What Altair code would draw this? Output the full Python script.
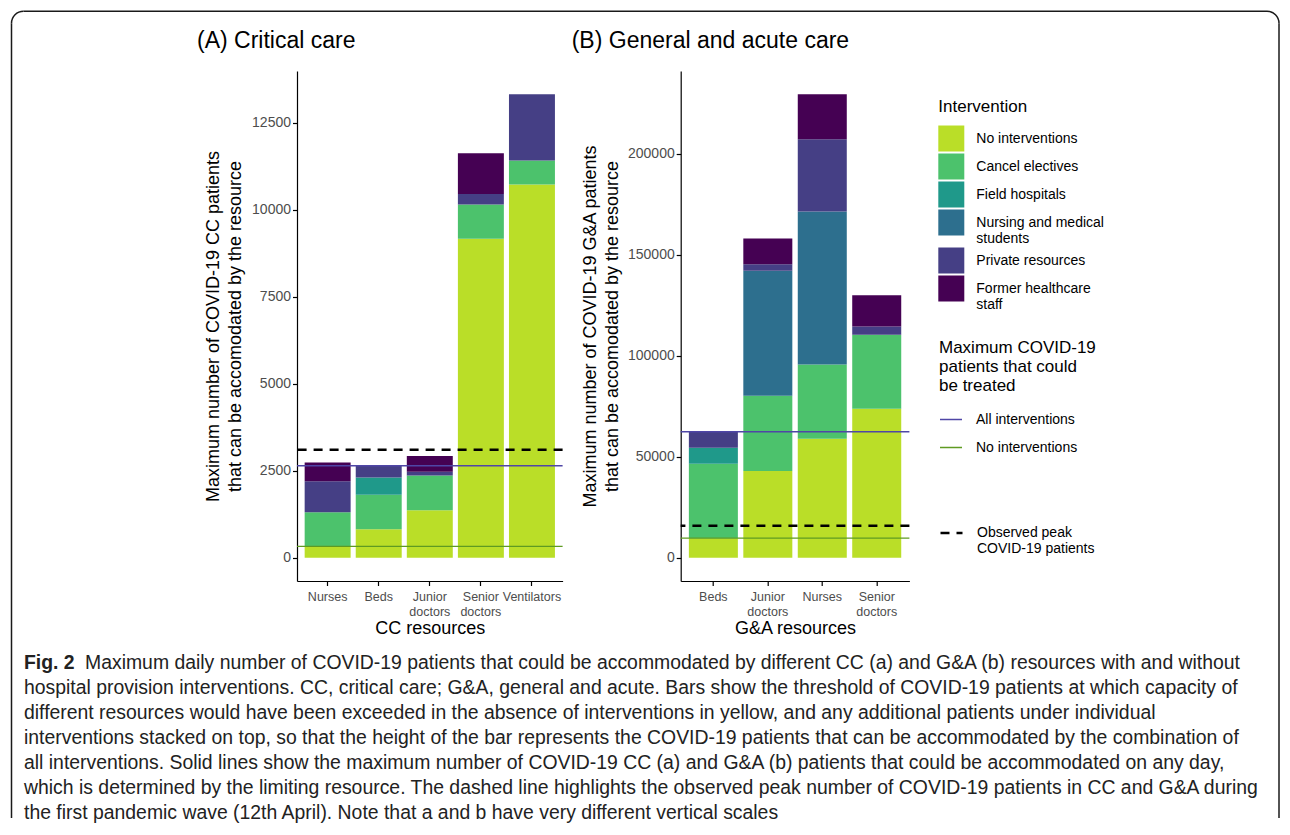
import altair as alt
import pandas as pd

# ---------------- data ----------------
interventions = ["No interventions", "Cancel electives", "Field hospitals",
                 "Nursing and medical students", "Private resources",
                 "Former healthcare staff"]
colors = ["#bade28", "#4cc26c", "#1f998a", "#2d6f8e", "#453f85", "#450153"]

cc_resources = ["Nurses", "Beds", "Junior doctors", "Senior doctors", "Ventilators"]
cc_none = [330, 817, 1365, 9166, 10722]
cc_cancel = [978, 991, 1000, 984, 688]
cc_field = [0, 500, 0, 0, 0]
cc_students = [0, 0, 0, 0, 0]
cc_private = [894, 336, 106, 296, 1905]
cc_former = [538, 0, 452, 1175, 0]

ga_resources = ["Beds", "Junior doctors", "Nurses", "Senior doctors"]
ga_none = [9700, 42900, 58900, 73760]
ga_cancel = [36830, 37290, 36730, 36650]
ga_field = [7920, 0, 0, 0]
ga_students = [0, 61800, 75740, 0]
ga_private = [7920, 3280, 35770, 4020]
ga_former = [0, 12770, 22260, 15510]

line_kinds = ["All interventions", "No interventions"]
line_colors = ["#4f46a6", "#5f9b22"]
cc_lines = [2644, 330]
ga_lines = [62370, 9700]
observed_kind = ["Observed peak COVID-19 patients"]
cc_observed = [3106]
ga_observed = [15840]

cc_ticks = [0, 2500, 5000, 7500, 10000, 12500]
ga_ticks = [0, 50000, 100000, 150000, 200000]
cc_domain = [-666, 13981]
ga_domain = [-11470, 240870]

caption_bold = "Fig. 2"
caption_lines = [
    "Maximum daily number of COVID-19 patients that could be accommodated by different CC (a) and G&A (b) resources with and without",
    "hospital provision interventions. CC, critical care; G&A, general and acute. Bars show the threshold of COVID-19 patients at which capacity of",
    "different resources would have been exceeded in the absence of interventions in yellow, and any additional patients under individual",
    "interventions stacked on top, so that the height of the bar represents the COVID-19 patients that can be accommodated by the combination of",
    "all interventions. Solid lines show the maximum number of COVID-19 CC (a) and G&A (b) patients that could be accommodated on any day,",
    "which is determined by the limiting resource. The dashed line highlights the observed peak number of COVID-19 patients in CC and G&A during",
    "the first pandemic wave (12th April). Note that a and b have very different vertical scales",
]

FONT = "Liberation Sans"
PANEL_H = 510


def bar_frame(resources, series):
    rows = []
    for r_i, res in enumerate(resources):
        for k, name in enumerate(interventions):
            v = series[k][r_i]
            if v > 0:
                rows.append({"resource": res, "intervention": name, "ord": k, "value": v})
    return pd.DataFrame(rows)


cc_df = bar_frame(cc_resources, [cc_none, cc_cancel, cc_field, cc_students, cc_private, cc_former])
ga_df = bar_frame(ga_resources, [ga_none, ga_cancel, ga_field, ga_students, ga_private, ga_former])

color_legend = alt.Legend(
    title="Intervention", orient="none", legendX=641.3, legendY=27.5,
    titleFontSize=17, titleFontWeight="normal", titlePadding=10, titleColor="black",
    symbolType="square", symbolSize=676, symbolStrokeWidth=0, symbolOpacity=1,
    labelFontSize=14, labelOffset=12, rowPadding=2, labelLimit=400, labelColor="black",
    labelExpr="datum.label == 'Nursing and medical students' ? ['Nursing and medical', 'students'] : "
              "datum.label == 'Former healthcare staff' ? ['Former healthcare', 'staff'] : datum.label",
)
stroke_legend = alt.Legend(
    title=["Maximum COVID-19", "patients that could", "be treated"], orient="none",
    legendX=642, legendY=268.5, titleFontSize=17, titleFontWeight="normal", titleLineHeight=19,
    titlePadding=13, titleColor="black",
    symbolType="stroke", symbolSize=484, symbolStrokeWidth=1.5,
    labelFontSize=14, labelOffset=13, rowPadding=9, labelLimit=400, labelColor="black",
)
dash_legend = alt.Legend(
    title=None, orient="none", legendX=642, legendY=449.5,
    symbolType="stroke", symbolSize=484, symbolStrokeWidth=2.5, symbolStrokeColor="black",
    labelFontSize=14, labelOffset=13, labelLimit=400, labelColor="black",
    labelExpr="datum.label == 'Observed peak COVID-19 patients' ? ['Observed peak', 'COVID-19 patients'] : datum.label",
)


def panel(df, resources, domain, ticks, ytitle, xtitle, lines, observed, width, title, title_dx, tpad):
    yscale = alt.Scale(domain=domain, nice=False, zero=False)
    yaxis = alt.Axis(values=ticks, format="d", title=ytitle, titlePadding=tpad,
                     titleLineHeight=22)
    bars = alt.Chart(df).mark_bar().encode(
        x=alt.X("resource:N", sort=resources,
                scale=alt.Scale(paddingInner=0.1, paddingOuter=0.15),
                axis=alt.Axis(title=xtitle, labelAngle=0, labelExpr="split(datum.label, ' ')",
                              labelFontSize=12.5, labelLineHeight=15, labelPadding=4.5,
                              titlePadding=2)),
        y=alt.Y("value:Q", stack="zero", scale=yscale, axis=yaxis),
        color=alt.Color("intervention:N", scale=alt.Scale(domain=interventions, range=colors),
                        legend=color_legend),
        order=alt.Order("ord:Q", sort="ascending"),
    )
    ldf = pd.DataFrame({"kind": line_kinds, "value": lines})
    rules = alt.Chart(ldf).mark_rule(strokeWidth=1.3).encode(
        y=alt.Y("value:Q", scale=yscale, axis=yaxis),
        stroke=alt.Stroke("kind:N", scale=alt.Scale(domain=line_kinds, range=line_colors),
                          legend=stroke_legend),
    )
    odf = pd.DataFrame({"kind": observed_kind, "value": observed})
    obs = alt.Chart(odf).mark_rule(strokeWidth=2.5, color="black").encode(
        y=alt.Y("value:Q", scale=yscale, axis=yaxis),
        strokeDash=alt.StrokeDash("kind:N", scale=alt.Scale(domain=observed_kind, range=[[9, 7]]),
                                  legend=dash_legend),
    )
    return alt.layer(bars, rules, obs).properties(
        width=width, height=PANEL_H,
        title=alt.TitleParams(title, anchor="start", frame="group", dx=title_dx,
                              fontSize=23, fontWeight="normal", offset=18, color="black"),
    )


panel_a = panel(cc_df, cc_resources, cc_domain, cc_ticks,
                ["Maximum number of COVID-19 CC patients", "that can be accomodated by the resource"],
                "CC resources", cc_lines, cc_observed, 265.6, "(A) Critical care", -100, 7)
panel_b = panel(ga_df, ga_resources, ga_domain, ga_ticks,
                ["Maximum number of COVID-19 G&A patients", "that can be accomodated by the resource"],
                "G&A resources", ga_lines, ga_observed, 228.7, "(B) General and acute care", -109, 6)

# ---------------- caption + frame ----------------
cap_df = pd.DataFrame({"line": list(range(len(caption_lines))), "text": caption_lines})
ybase = alt.Y("line:O", scale=alt.Scale(type="point", padding=0), axis=None)
cap_style = dict(align="left", baseline="middle", fontSize=19.4, font=FONT, color="#222222")
cap_rest = alt.Chart(cap_df).mark_text(**cap_style).encode(
    y=ybase, x=alt.value(-273), text="text:N").transform_filter("datum.line > 0")
cap_first = alt.Chart(cap_df).mark_text(**cap_style).encode(
    y=ybase, x=alt.value(-212), text="text:N").transform_filter("datum.line == 0")
cap_fig = alt.Chart(cap_df).mark_text(fontWeight="bold", text=caption_bold, **cap_style).encode(
    y=ybase, x=alt.value(-273)).transform_filter("datum.line == 0")

one = pd.DataFrame({"k": [0]})
L, R, T, B, r = -285.5, 982, -651.75, 155, 12
fstyle = dict(color="#1a1a1a", strokeWidth=1.5)
left_edge = alt.Chart(one).mark_rule(**fstyle).encode(
    x=alt.value(L), y=alt.value(T + r), y2=alt.value(B))
right_edge = alt.Chart(one).mark_rule(**fstyle).encode(
    x=alt.value(R), y=alt.value(T + r), y2=alt.value(B))
top_edge = alt.Chart(one).mark_rule(**fstyle).encode(
    x=alt.value(L + r), x2=alt.value(R - r), y=alt.value(T))
arc_tl = alt.Chart(one).mark_arc(filled=False, stroke="#1a1a1a", strokeWidth=1.5,
                                 radius=r, radius2=r, theta=4.712389, theta2=6.283185).encode(
    x=alt.value(L + r), y=alt.value(T + r))
arc_tr = alt.Chart(one).mark_arc(filled=False, stroke="#1a1a1a", strokeWidth=1.5,
                                 radius=r, radius2=r, theta=0, theta2=1.570796).encode(
    x=alt.value(R - r), y=alt.value(T + r))

caption = alt.layer(cap_rest, cap_first, cap_fig, left_edge, right_edge, top_edge,
                    arc_tl, arc_tr).properties(width=1, height=150)

chart = alt.concat(panel_a, panel_b, caption, columns=2,
                   spacing={"row": 82, "column": 117.7}, bounds="flush").properties(
    padding={"left": 0, "top": 0, "right": 0, "bottom": 0}
).configure(font=FONT).configure_view(stroke=None).configure_axis(
    grid=False, domainColor="black", domainWidth=1.2, tickColor="black", tickWidth=1.2,
    tickSize=4.5, labelColor="#4d4d4d", labelFontSize=14, labelPadding=2,
    titleColor="black", titleFontSize=18, titleFontWeight="normal",
)

chart.save("out.html", embed_options={"renderer": "svg", "actions": False})
